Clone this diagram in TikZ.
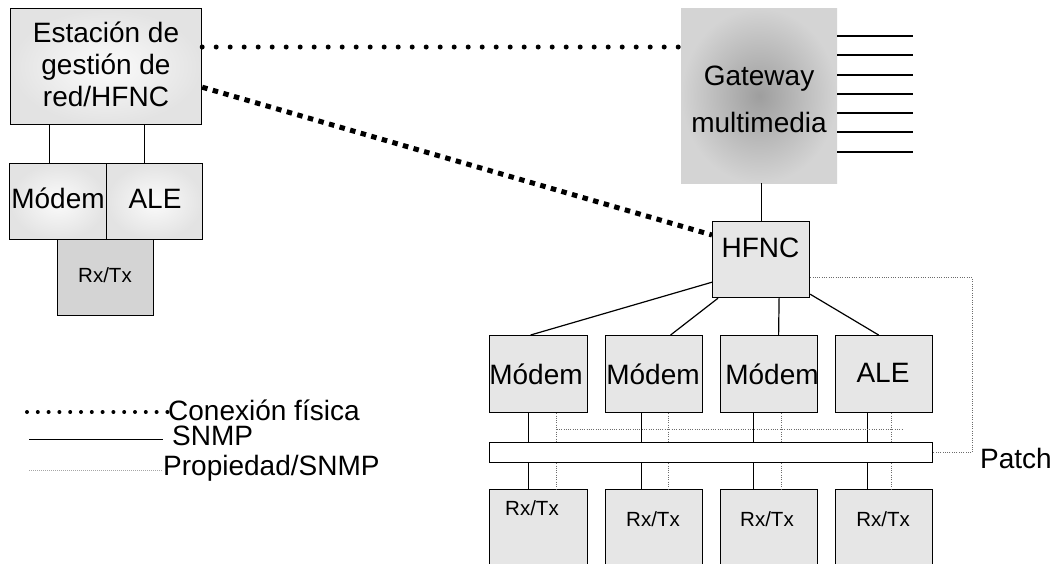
\documentclass[tikz,border=0pt]{standalone}
\usepackage{fontspec}
\setmainfont{Liberation Sans}
\usetikzlibrary{calc}
\definecolor{boxfill}{HTML}{E6E6E6}
\definecolor{rxdark}{HTML}{D4D4D4}
\definecolor{gwin}{HTML}{9E9E9E}
\definecolor{gwout}{HTML}{D4D4D4}
\tikzset{
  blk/.style={draw=black, line width=1.2pt, anchor=north west, inner sep=0pt, fill=boxfill},
  softbox/.style={blk, inner color=white!97!gray, outer color=gray!22},
  lbl/.style={anchor=base, inner sep=0pt, font=\fontsize{28}{33}\selectfont},
  lbls/.style={anchor=base, inner sep=0pt, font=\fontsize{20.5}{24}\selectfont},
  snmp/.style={line width=1.2pt, black},
  prop/.style={line width=0.9pt, gray!85!black, dash pattern=on 1pt off 1.3pt},
  phys/.style={line width=5pt, black, line cap=round, dash pattern=on 0pt off 14pt},
  physdash/.style={line width=5pt, black, dash pattern=on 5.5pt off 5.5pt},
}
\begin{document}
\begin{tikzpicture}[x=1pt,y=-1pt]
\useasboundingbox (0,0) rectangle (1057,563);
\clip (0,0) rectangle (1057,563);
\fill[white] (0,0) rectangle (1057,563);

% ---- left station ----
\node[softbox, minimum width=191pt, minimum height=116pt] (st) at (10,8) {};
\node[lbl] (st1) at (106,42) {Estación de};
\node[lbl] (st2) at (106,74) {gestión de};
\node[lbl] (st3) at (106,106) {red/HFNC};

\node[softbox, minimum width=97pt, minimum height=76pt] (lm) at (9,163) {};
\node[softbox, minimum width=96pt, minimum height=76pt] (la) at (106,163) {};
\node[lbl] (lmt) at (58,208) {Módem};
\node[lbl] (lat) at (155,208) {ALE};
\node[blk, fill=rxdark, minimum width=96pt, minimum height=76pt] (lrx) at (57,239) {};
\node[lbls] (lrxt) at (105,282) {Rx/Tx};

\draw[snmp] ([xshift=-8.5pt]lm.north) -- ([xshift=-8.5pt]lm.north |- st.south);
\draw[snmp] ([xshift=-10pt]la.north) -- ([xshift=-10pt]la.north |- st.south);

% ---- gateway ----
\node[anchor=north west, inner sep=0pt, minimum width=156pt, minimum height=175pt,
      inner color=gwin, outer color=gwout] (gw) at (681,8) {};
\node[lbl] (gw1) at (759,85) {Gateway};
\node[lbl] (gw2) at (759,132) {multimedia};
\foreach \yy/\n in {36/1,55/2,75/3,94/4,113/5,132/6,152/7}{
  \coordinate (gl\n) at (913,\yy);
  \draw[snmp] (gl\n -| gw.east) -- (gl\n);
}

% ---- HFNC ----
\node[blk, minimum width=97pt, minimum height=76pt] (hf) at (712,221) {};
\node[lbl] (hft) at (760.5,257) {HFNC};
\draw[snmp] (hf.north |- gw.south) -- (hf.north);

% ---- physical connections ----
\draw[phys] ([yshift=-39pt]st.north east) -- ([yshift=-39pt]gw.north west);
\draw[physdash] ([yshift=38pt]st.south east) -- ([yshift=-14pt]hf.north west);

% ---- modules ----
\node[blk, minimum width=98pt, minimum height=77pt] (m1) at (489,335) {};
\node[blk, minimum width=97pt, minimum height=77pt] (m2) at (605,335) {};
\node[blk, minimum width=97pt, minimum height=77pt] (m3) at (720,335) {};
\node[blk, minimum width=97pt, minimum height=77pt] (ale) at (835,335) {};
\node[lbl] (m1t) at (536,384) {Módem};
\node[lbl] (m2t) at (653,384) {Módem};
\node[lbl] (m3t) at (772,384) {Módem};
\node[lbl] (alet) at (883,382) {ALE};

\draw[snmp] ([yshift=16pt]hf.south west) -- ([xshift=-8pt]m1.north);
\draw[snmp] ([xshift=6pt]hf.south west) -- ([xshift=16.5pt]m2.north);
\draw[snmp] ([xshift=18pt]hf.south) -- ([xshift=9.5pt]m3.north);
\draw[snmp] ([yshift=4pt]hf.south east) -- ([xshift=-5.5pt]ale.north);

% ---- patch bar ----
\node[blk, fill=white, minimum width=443pt, minimum height=20pt] (bar) at (489,442) {};
\node[anchor=base west, inner sep=0pt, font=\fontsize{28}{33}\selectfont] (patch) at (980,468) {Patch};
\draw[prop] ([yshift=-18pt]hf.east) -| ([xshift=39pt]bar.east) -- (bar.east);

% ---- Rx/Tx row ----
\node[blk, minimum width=98pt, minimum height=100pt] (r1) at (489,489) {};
\node[blk, minimum width=97pt, minimum height=100pt] (r2) at (605,489) {};
\node[blk, minimum width=97pt, minimum height=100pt] (r3) at (720,489) {};
\node[blk, minimum width=97pt, minimum height=100pt] (r4) at (835,489) {};
\node[lbls] (r1t) at (532,515) {Rx/Tx};
\node[lbls] (r2t) at (653,526) {Rx/Tx};
\node[lbls] (r3t) at (767,526) {Rx/Tx};
\node[lbls] (r4t) at (883,526) {Rx/Tx};

% vertical links module -> bar -> rx
\foreach \m/\r/\s/\d in {m1/r1/-10/18, m2/r2/-12.5/14.5, m3/r3/-15.5/12.5, ale/r4/-16.5/7.5}{
  \draw[snmp] ([xshift=\s pt]\m.south) -- ([xshift=\s pt]\m.south |- bar.north);
  \draw[snmp] ([xshift=\s pt]\m.south |- bar.south) -- ([xshift=\s pt]\m.south |- \r.north);
  \draw[prop] ([xshift=\d pt]\m.south) -- ([xshift=\d pt]\m.south |- bar.north);
  \draw[prop] ([xshift=\d pt]\m.south |- bar.south) -- ([xshift=\d pt]\m.south |- \r.north);
}
\draw[prop] ([xshift=18pt,yshift=-16pt]m1.south) -- ([xshift=18pt,yshift=-16pt]ale.south);

% ---- legend ----
\node[anchor=base west, inner sep=0pt, font=\fontsize{28}{33}\selectfont] (lg1) at (168,420) {Conexión física};
\node[anchor=base west, inner sep=0pt, font=\fontsize{28}{33}\selectfont] (lg2) at (172,445) {SNMP};
\node[anchor=base west, inner sep=0pt, font=\fontsize{28}{33}\selectfont] (lg3) at (163,475) {Propiedad/SNMP};
\coordinate (lp1) at (27,412);
\coordinate (lp2) at (29,439);
\coordinate (lp3) at (29,470);
\draw[line width=4pt, line cap=round, dash pattern=on 0pt off 10.8pt] (lp1) -- (lp1 -| lg1.west);
\draw[line width=1pt] (lp2) -- ([xshift=-9pt]lp2 -| lg2.west);
\draw[line width=0.9pt, gray!70, dash pattern=on 1pt off 1pt] (lp3) -- (lp3 -| lg3.west);
\end{tikzpicture}
\end{document}
